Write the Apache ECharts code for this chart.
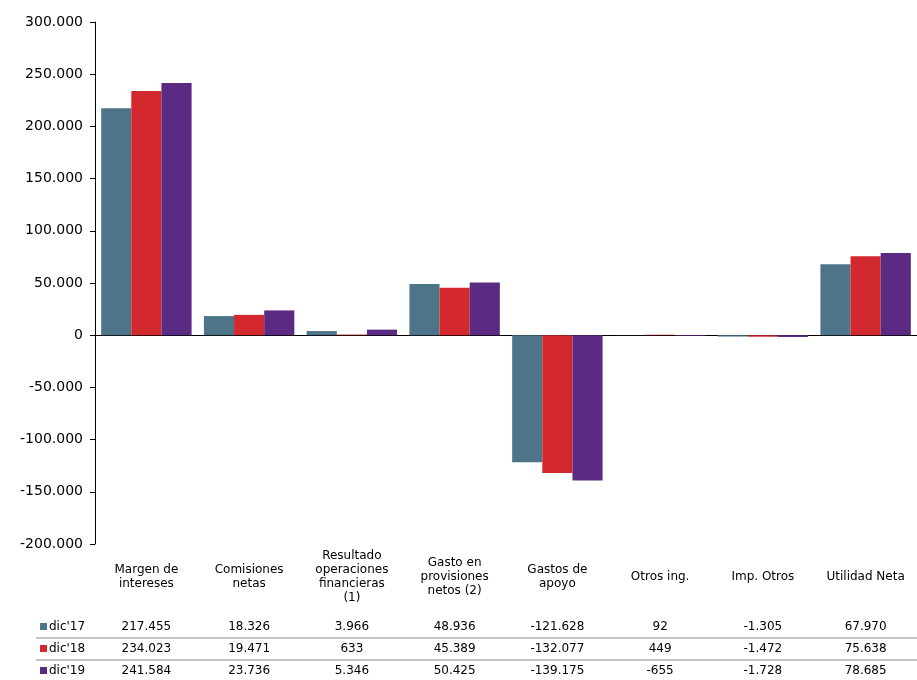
<!DOCTYPE html>
<html><head><meta charset="utf-8">
<script src="https://cdn.jsdelivr.net/npm/echarts@6/dist/echarts.min.js"></script>
<style>html,body{margin:0;padding:0;background:#fff}#c{width:917px;height:680px}</style>
</head><body><div id="c"></div>
<script>
// categorias y valores (millones)
const categories = ['Margen de\nintereses', 'Comisiones\nnetas', 'Resultado\noperaciones\nfinancieras\n(1)', 'Gasto en\nprovisiones\nnetos (2)', 'Gastos de\napoyo', 'Otros ing.', 'Imp. Otros', 'Utilidad Neta']
const seriesNames = ["dic'17", "dic'18", "dic'19"]
const dic17 = [217455, 18326, 3966, 48936, -121628, 92, -1305, 67970]
const dic18 = [234023, 19471, 633, 45389, -132077, 449, -1472, 75638]
const dic19 = [241584, 23736, 5346, 50425, -139175, -655, -1728, 78685]
const colors = ['#4E7489', '#D2282E', '#5B2A83']

const fmt = v => new Intl.NumberFormat('de-DE').format(v)
const font = 'DejaVu Sans'
const rows = [dic17, dic18, dic19]

let chart = echarts.init(document.getElementById('c'))
const xAxes = [{
  type: 'category', data: categories, position: 'bottom',
  axisLine: { onZero: false, show: false }, axisTick: { show: false },
  axisLabel: { interval: 0, verticalAlign: 'middle', margin: 33, lineHeight: 14, fontFamily: font, fontSize: 12, color: '#000' }
}, {
  type: 'category', data: categories, axisLine: { onZero: true, lineStyle: { color: '#000' } },
  axisTick: { show: false }, axisLabel: { show: false }
}]
rows.forEach((r, i) => {
  xAxes.push({
    type: 'category', data: r.map(fmt), position: 'bottom',
    axisLine: { onZero: false, show: false }, axisTick: { show: false },
    axisLabel: { interval: 0, verticalAlign: 'middle', margin: 83 + 22 * i, fontFamily: font, fontSize: 12, color: '#000' }
  })
})

const graphic = []
seriesNames.forEach((n, i) => {
  const y = 627 + 22 * i
  graphic.push({ type: 'rect', shape: { x: 40, y: y - 4, width: 7, height: 7 }, style: { fill: colors[i] } })
  graphic.push({ type: 'text', x: 49, y: y, style: { text: n, font: '12px DejaVu Sans', fill: '#000', verticalAlign: 'middle' } })
})
graphic.push({ type: 'line', shape: { x1: 36, y1: 638, x2: 917, y2: 638 }, style: { stroke: '#888', lineWidth: 1 } })
graphic.push({ type: 'line', shape: { x1: 36, y1: 660, x2: 917, y2: 660 }, style: { stroke: '#888', lineWidth: 1 } })

chart.setOption({
  animation: false,
  grid: { left: 95, right: 0, top: 22, bottom: 136 },
  xAxis: xAxes,
  yAxis: {
    type: 'value', min: -200000, max: 300000, interval: 50000,
    axisLine: { show: true, lineStyle: { color: '#000' } },
    axisTick: { show: true, length: 5, lineStyle: { color: '#000' } },
    splitLine: { show: false },
    axisLabel: { formatter: fmt, fontFamily: font, fontSize: 14, color: '#000', margin: 12 }
  },
  series: rows.map((r, i) => ({
    name: seriesNames[i], type: 'bar', data: r, itemStyle: { color: colors[i] },
    barGap: '0%', barCategoryGap: '12%'
  })),
  graphic: graphic
})
window.addEventListener('resize', () => chart.resize())
</script>
</body></html>
